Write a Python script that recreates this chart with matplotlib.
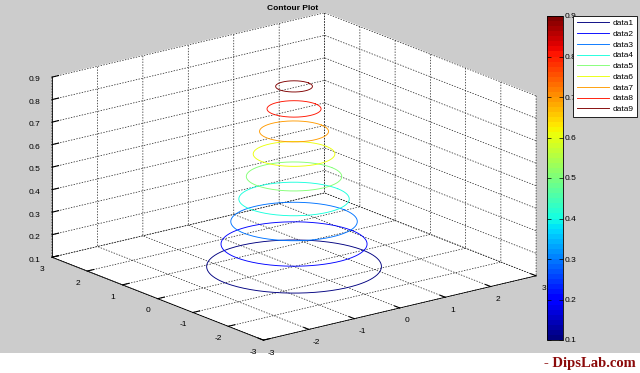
import numpy as np
import matplotlib
matplotlib.use("Agg")
import matplotlib.pyplot as plt
from matplotlib.patches import Rectangle

# contour levels and the radius of each ring
levels = [0.1, 0.2, 0.3, 0.4, 0.5, 0.6, 0.7, 0.8, 0.9]
radii = [1.52, 1.27, 1.10, 0.96, 0.83, 0.71, 0.60, 0.47, 0.32]
names = ["data1", "data2", "data3", "data4", "data5", "data6", "data7", "data8", "data9"]
xy_ticks = [-3, -2, -1, 0, 1, 2, 3]
z_ticks = [0.1, 0.2, 0.3, 0.4, 0.5, 0.6, 0.7, 0.8, 0.9]

plt.rcParams['font.family'] = ['Liberation Sans', 'DejaVu Sans']
plt.rcParams['axes.unicode_minus'] = False
plt.rcParams['grid.color'] = '0.1'
plt.rcParams['grid.linestyle'] = (0, (2, 2))
plt.rcParams['grid.linewidth'] = 0.5
plt.rcParams['axes3d.automargin'] = False

cmap = plt.get_cmap('jet', 64)
norm = plt.Normalize(0.1, 0.9)

fig = plt.figure(figsize=(6.4, 3.73), dpi=100, facecolor='#cccccc')
fig.patches.append(Rectangle((0, 0), 1, 20 / 373, transform=fig.transFigure,
                             facecolor='white', edgecolor='none', zorder=-1))

s = 373
cx, cy = 289, 373 - 181.5
ax = fig.add_axes([(cx - s / 2) / 640, (cy - s / 2) / 373, s / 640, s / 373],
                  projection='3d', proj_type='ortho')
ax.set_facecolor('none')
ax.view_init(elev=17.7, azim=-127.8)
ax.set_box_aspect((1, 1, 0.548), zoom=1.362)

t = np.linspace(0, 2 * np.pi, 200)
handles = []
for lev, r, nm in zip(levels, radii, names):
    h, = ax.plot(r * np.cos(t), r * np.sin(t), lev, color=cmap(norm(lev)),
                 lw=0.65, label=nm)
    handles.append(h)

ax.set_xlim(-3, 3)
ax.set_ylim(-3, 3)
ax.set_zlim(0.1, 0.9)
ax.set_xticks(xy_ticks)
ax.set_yticks(xy_ticks)
ax.set_zticks(z_ticks)
ax.set_zticklabels(['%.1f' % v for v in z_ticks])
for axis in (ax.xaxis, ax.yaxis, ax.zaxis):
    axis.set_pane_color((1, 1, 1, 1))
    axis.line.set_color('k')
    axis.line.set_linewidth(0.6)
    axis._axinfo['tick']['inward_factor'] = 0.0
    axis._axinfo['tick']['outward_factor'] = 0.3
ax.tick_params(labelsize=6, pad=-3)

fig.text(293 / 640, 1 - 8 / 373, 'Contour Plot', ha='center', va='center',
         fontsize=6, fontweight='bold')

cax = fig.add_axes([547 / 640, 33 / 373, 16 / 640, 324 / 373])
sm = plt.cm.ScalarMappable(norm=norm, cmap=cmap)
cb = fig.colorbar(sm, cax=cax, ticks=z_ticks)
cb.outline.set_linewidth(0.6)
cax.tick_params(direction='in', left=True, right=True, length=3, width=0.5,
                labelsize=6, pad=1)
cax.set_yticklabels(['%.1f' % v for v in z_ticks])

leg = fig.legend(handles=handles, loc='upper right',
                 bbox_to_anchor=(637 / 640, 1 - 16 / 373), fontsize=6,
                 frameon=True, fancybox=False, framealpha=1, edgecolor='k',
                 handlelength=3.9, labelspacing=0.35, borderpad=0.4,
                 handletextpad=0.4, borderaxespad=0)
leg.get_frame().set_linewidth(0.6)
leg.set_zorder(10)

fig.text(636 / 640, 9 / 373, '- DipsLab.com', ha='right', va='center',
         fontsize=10.5, fontweight='bold', color='#8b0a0a',
         family=['Liberation Serif', 'DejaVu Serif'])

fig.savefig('out.png', dpi=100, facecolor=fig.get_facecolor())
